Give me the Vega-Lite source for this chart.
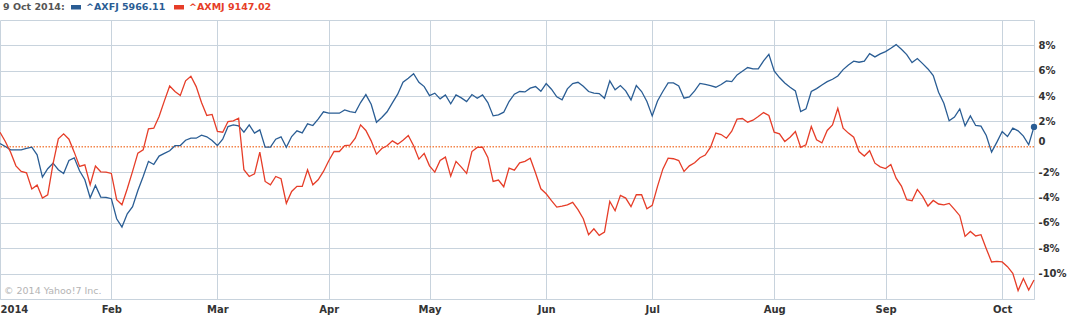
{
"$schema": "https://vega.github.io/schema/vega-lite/v6.json",
"width": 1034, "height": 279,
"autosize": {"type": "none"},
"padding": {"left": 0, "top": 20, "right": 37, "bottom": 17},
"background": "white",
"config": {"view": {"stroke": null}, "font": "DejaVu Sans"},
"datasets": {
"px": [
{"d":"2014-01-02","AXFJ":0.26,"AXMJ":1.15},{"d":"2014-01-03","AXFJ":0.03,"AXMJ":0.42},{"d":"2014-01-06","AXFJ":-0.24,"AXMJ":-0.42},{"d":"2014-01-07","AXFJ":-0.24,"AXMJ":-1.5},{"d":"2014-01-08","AXFJ":-0.24,"AXMJ":-1.94},{"d":"2014-01-09","AXFJ":-0.13,"AXMJ":-2.05},{"d":"2014-01-10","AXFJ":-0.03,"AXMJ":-3.33},{"d":"2014-01-13","AXFJ":-0.63,"AXMJ":-3.02},{"d":"2014-01-14","AXFJ":-2.39,"AXMJ":-4.04},{"d":"2014-01-15","AXFJ":-1.73,"AXMJ":-3.78},{"d":"2014-01-16","AXFJ":-1.29,"AXMJ":-1.34},{"d":"2014-01-17","AXFJ":-1.81,"AXMJ":0.63},{"d":"2014-01-20","AXFJ":-2.1,"AXMJ":1.02},{"d":"2014-01-21","AXFJ":-1.08,"AXMJ":0.6},{"d":"2014-01-22","AXFJ":-0.87,"AXMJ":-0.42},{"d":"2014-01-23","AXFJ":-1.89,"AXMJ":-1.55},{"d":"2014-01-24","AXFJ":-2.6,"AXMJ":-1.42},{"d":"2014-01-28","AXFJ":-4.02,"AXMJ":-2.99},{"d":"2014-01-29","AXFJ":-3.04,"AXMJ":-1.52},{"d":"2014-01-30","AXFJ":-3.96,"AXMJ":-1.97},{"d":"2014-01-31","AXFJ":-3.99,"AXMJ":-1.99},
{"d":"2014-02-03","AXFJ":-4.09,"AXMJ":-2.1},{"d":"2014-02-04","AXFJ":-5.67,"AXMJ":-4.17},{"d":"2014-02-05","AXFJ":-6.33,"AXMJ":-4.57},{"d":"2014-02-06","AXFJ":-5.28,"AXMJ":-3.31},{"d":"2014-02-07","AXFJ":-4.72,"AXMJ":-1.94},{"d":"2014-02-10","AXFJ":-3.44,"AXMJ":-0.5},{"d":"2014-02-11","AXFJ":-2.34,"AXMJ":-0.24},{"d":"2014-02-12","AXFJ":-1.15,"AXMJ":1.42},{"d":"2014-02-13","AXFJ":-1.39,"AXMJ":1.47},{"d":"2014-02-14","AXFJ":-0.73,"AXMJ":2.39},{"d":"2014-02-17","AXFJ":-0.52,"AXMJ":3.62},{"d":"2014-02-18","AXFJ":-0.31,"AXMJ":4.8},{"d":"2014-02-19","AXFJ":0.09,"AXMJ":4.36},{"d":"2014-02-20","AXFJ":0.1,"AXMJ":4.05},{"d":"2014-02-21","AXFJ":0.52,"AXMJ":5.2},{"d":"2014-02-24","AXFJ":0.68,"AXMJ":5.56},{"d":"2014-02-25","AXFJ":0.68,"AXMJ":4.75},{"d":"2014-02-26","AXFJ":0.92,"AXMJ":3.49},{"d":"2014-02-27","AXFJ":0.79,"AXMJ":2.47},{"d":"2014-02-28","AXFJ":0.5,"AXMJ":2.55},
{"d":"2014-03-03","AXFJ":0.1,"AXMJ":1.21},{"d":"2014-03-04","AXFJ":0.6,"AXMJ":1.15},{"d":"2014-03-05","AXFJ":1.6,"AXMJ":1.99},{"d":"2014-03-06","AXFJ":1.73,"AXMJ":2.05},{"d":"2014-03-07","AXFJ":1.65,"AXMJ":2.26},{"d":"2014-03-10","AXFJ":1.15,"AXMJ":-1.81},{"d":"2014-03-11","AXFJ":1.73,"AXMJ":-2.34},{"d":"2014-03-12","AXFJ":1.08,"AXMJ":-2.13},{"d":"2014-03-13","AXFJ":1.34,"AXMJ":-0.42},{"d":"2014-03-14","AXFJ":-0.03,"AXMJ":-2.73},{"d":"2014-03-17","AXFJ":-0.03,"AXMJ":-2.99},{"d":"2014-03-18","AXFJ":0.6,"AXMJ":-2.34},{"d":"2014-03-19","AXFJ":0.79,"AXMJ":-2.52},{"d":"2014-03-20","AXFJ":-0.03,"AXMJ":-4.46},{"d":"2014-03-21","AXFJ":0.81,"AXMJ":-3.52},{"d":"2014-03-24","AXFJ":1.26,"AXMJ":-3.12},{"d":"2014-03-25","AXFJ":1.1,"AXMJ":-3.12},{"d":"2014-03-26","AXFJ":1.81,"AXMJ":-1.81},{"d":"2014-03-27","AXFJ":1.68,"AXMJ":-2.99},{"d":"2014-03-28","AXFJ":2.18,"AXMJ":-2.6},{"d":"2014-03-31","AXFJ":2.76,"AXMJ":-1.94},
{"d":"2014-04-01","AXFJ":2.65,"AXMJ":-1.1},{"d":"2014-04-02","AXFJ":2.65,"AXMJ":-0.37},{"d":"2014-04-03","AXFJ":2.65,"AXMJ":-0.37},{"d":"2014-04-04","AXFJ":2.91,"AXMJ":0.1},{"d":"2014-04-07","AXFJ":2.77,"AXMJ":0.13},{"d":"2014-04-08","AXFJ":2.7,"AXMJ":0.68},{"d":"2014-04-09","AXFJ":3.49,"AXMJ":1.73},{"d":"2014-04-10","AXFJ":4.12,"AXMJ":1.29},{"d":"2014-04-11","AXFJ":3.36,"AXMJ":0.47},{"d":"2014-04-14","AXFJ":1.94,"AXMJ":-0.58},{"d":"2014-04-15","AXFJ":2.31,"AXMJ":-0.13},{"d":"2014-04-16","AXFJ":2.76,"AXMJ":0.08},{"d":"2014-04-17","AXFJ":3.46,"AXMJ":0.47},{"d":"2014-04-22","AXFJ":4.15,"AXMJ":0.21},{"d":"2014-04-23","AXFJ":5.09,"AXMJ":0.52},{"d":"2014-04-24","AXFJ":5.41,"AXMJ":0.89},{"d":"2014-04-28","AXFJ":5.77,"AXMJ":0.08},{"d":"2014-04-29","AXFJ":5.09,"AXMJ":-0.97},{"d":"2014-04-30","AXFJ":4.75,"AXMJ":-0.52},
{"d":"2014-05-01","AXFJ":4.04,"AXMJ":-1.5},{"d":"2014-05-02","AXFJ":4.23,"AXMJ":-1.99},{"d":"2014-05-05","AXFJ":3.78,"AXMJ":-1.08},{"d":"2014-05-06","AXFJ":4.09,"AXMJ":-0.81},{"d":"2014-05-07","AXFJ":3.39,"AXMJ":-2.31},{"d":"2014-05-08","AXFJ":4.09,"AXMJ":-1.15},{"d":"2014-05-09","AXFJ":3.86,"AXMJ":-1.6},{"d":"2014-05-12","AXFJ":3.57,"AXMJ":-2.1},{"d":"2014-05-13","AXFJ":4.12,"AXMJ":-0.37},{"d":"2014-05-14","AXFJ":3.83,"AXMJ":-0.05},{"d":"2014-05-15","AXFJ":4.09,"AXMJ":-0.03},{"d":"2014-05-16","AXFJ":3.49,"AXMJ":-0.84},{"d":"2014-05-19","AXFJ":2.44,"AXMJ":-2.73},{"d":"2014-05-20","AXFJ":2.52,"AXMJ":-2.62},{"d":"2014-05-21","AXFJ":2.73,"AXMJ":-3.15},{"d":"2014-05-22","AXFJ":3.57,"AXMJ":-1.68},{"d":"2014-05-23","AXFJ":4.15,"AXMJ":-1.84},{"d":"2014-05-26","AXFJ":4.36,"AXMJ":-1.26},{"d":"2014-05-27","AXFJ":4.33,"AXMJ":-1.14},{"d":"2014-05-28","AXFJ":4.63,"AXMJ":-0.9},{"d":"2014-05-29","AXFJ":4.75,"AXMJ":-2.07},{"d":"2014-05-30","AXFJ":4.38,"AXMJ":-3.31},
{"d":"2014-06-02","AXFJ":4.99,"AXMJ":-3.7},{"d":"2014-06-03","AXFJ":4.54,"AXMJ":-4.25},{"d":"2014-06-04","AXFJ":3.94,"AXMJ":-4.75},{"d":"2014-06-05","AXFJ":3.7,"AXMJ":-4.67},{"d":"2014-06-06","AXFJ":4.57,"AXMJ":-4.57},{"d":"2014-06-10","AXFJ":4.99,"AXMJ":-4.38},{"d":"2014-06-11","AXFJ":5.09,"AXMJ":-4.96},{"d":"2014-06-12","AXFJ":4.78,"AXMJ":-5.67},{"d":"2014-06-13","AXFJ":4.36,"AXMJ":-6.93},{"d":"2014-06-16","AXFJ":4.23,"AXMJ":-6.46},{"d":"2014-06-17","AXFJ":4.2,"AXMJ":-6.98},{"d":"2014-06-18","AXFJ":3.83,"AXMJ":-6.72},{"d":"2014-06-19","AXFJ":5.2,"AXMJ":-4.3},{"d":"2014-06-20","AXFJ":4.49,"AXMJ":-5.04},{"d":"2014-06-23","AXFJ":4.83,"AXMJ":-3.83},{"d":"2014-06-24","AXFJ":4.41,"AXMJ":-4.04},{"d":"2014-06-25","AXFJ":3.7,"AXMJ":-4.72},{"d":"2014-06-26","AXFJ":4.83,"AXMJ":-3.78},{"d":"2014-06-27","AXFJ":4.36,"AXMJ":-3.78},{"d":"2014-06-30","AXFJ":3.57,"AXMJ":-4.88},
{"d":"2014-07-01","AXFJ":2.44,"AXMJ":-4.62},{"d":"2014-07-02","AXFJ":3.62,"AXMJ":-3.12},{"d":"2014-07-03","AXFJ":4.36,"AXMJ":-1.76},{"d":"2014-07-04","AXFJ":5.04,"AXMJ":-0.89},{"d":"2014-07-07","AXFJ":5.04,"AXMJ":-0.94},{"d":"2014-07-08","AXFJ":4.8,"AXMJ":-1.08},{"d":"2014-07-09","AXFJ":3.83,"AXMJ":-1.94},{"d":"2014-07-10","AXFJ":3.94,"AXMJ":-1.5},{"d":"2014-07-11","AXFJ":4.41,"AXMJ":-1.26},{"d":"2014-07-14","AXFJ":5.0,"AXMJ":-0.86},{"d":"2014-07-15","AXFJ":4.92,"AXMJ":-0.65},{"d":"2014-07-16","AXFJ":4.83,"AXMJ":-0.03},{"d":"2014-07-17","AXFJ":4.7,"AXMJ":1.08},{"d":"2014-07-18","AXFJ":4.91,"AXMJ":0.97},{"d":"2014-07-21","AXFJ":5.2,"AXMJ":0.68},{"d":"2014-07-22","AXFJ":5.14,"AXMJ":1.23},{"d":"2014-07-23","AXFJ":5.67,"AXMJ":2.18},{"d":"2014-07-24","AXFJ":5.96,"AXMJ":2.23},{"d":"2014-07-25","AXFJ":6.25,"AXMJ":1.94},{"d":"2014-07-28","AXFJ":6.14,"AXMJ":2.1},{"d":"2014-07-29","AXFJ":6.14,"AXMJ":2.39},{"d":"2014-07-30","AXFJ":6.77,"AXMJ":2.7},{"d":"2014-07-31","AXFJ":7.3,"AXMJ":2.47},
{"d":"2014-08-01","AXFJ":5.98,"AXMJ":1.15},{"d":"2014-08-04","AXFJ":5.46,"AXMJ":1.02},{"d":"2014-08-05","AXFJ":5.04,"AXMJ":0.42},{"d":"2014-08-06","AXFJ":4.7,"AXMJ":0.76},{"d":"2014-08-07","AXFJ":4.41,"AXMJ":1.21},{"d":"2014-08-08","AXFJ":2.78,"AXMJ":-0.05},{"d":"2014-08-11","AXFJ":2.99,"AXMJ":0.16},{"d":"2014-08-12","AXFJ":4.36,"AXMJ":1.6},{"d":"2014-08-13","AXFJ":4.59,"AXMJ":0.55},{"d":"2014-08-14","AXFJ":4.88,"AXMJ":0.31},{"d":"2014-08-15","AXFJ":5.14,"AXMJ":1.29},{"d":"2014-08-18","AXFJ":5.33,"AXMJ":1.73},{"d":"2014-08-19","AXFJ":5.59,"AXMJ":3.04},{"d":"2014-08-20","AXFJ":6.09,"AXMJ":1.47},{"d":"2014-08-21","AXFJ":6.46,"AXMJ":1.08},{"d":"2014-08-22","AXFJ":6.75,"AXMJ":0.76},{"d":"2014-08-25","AXFJ":6.67,"AXMJ":-0.37},{"d":"2014-08-26","AXFJ":6.75,"AXMJ":-0.73},{"d":"2014-08-27","AXFJ":7.35,"AXMJ":-0.31},{"d":"2014-08-28","AXFJ":7.09,"AXMJ":-1.29},{"d":"2014-08-29","AXFJ":7.33,"AXMJ":-1.58},
{"d":"2014-09-01","AXFJ":7.51,"AXMJ":-1.71},{"d":"2014-09-02","AXFJ":7.77,"AXMJ":-1.39},{"d":"2014-09-03","AXFJ":8.06,"AXMJ":-2.47},{"d":"2014-09-04","AXFJ":7.69,"AXMJ":-3.1},{"d":"2014-09-05","AXFJ":7.27,"AXMJ":-4.17},{"d":"2014-09-08","AXFJ":6.64,"AXMJ":-4.25},{"d":"2014-09-09","AXFJ":6.96,"AXMJ":-3.36},{"d":"2014-09-10","AXFJ":6.56,"AXMJ":-3.91},{"d":"2014-09-11","AXFJ":6.14,"AXMJ":-4.67},{"d":"2014-09-12","AXFJ":5.62,"AXMJ":-4.23},{"d":"2014-09-15","AXFJ":4.3,"AXMJ":-4.51},{"d":"2014-09-16","AXFJ":3.44,"AXMJ":-4.57},{"d":"2014-09-17","AXFJ":2.05,"AXMJ":-4.46},{"d":"2014-09-18","AXFJ":2.34,"AXMJ":-4.93},{"d":"2014-09-19","AXFJ":2.99,"AXMJ":-5.43},{"d":"2014-09-22","AXFJ":1.65,"AXMJ":-7.06},{"d":"2014-09-23","AXFJ":2.44,"AXMJ":-6.67},{"d":"2014-09-24","AXFJ":1.68,"AXMJ":-7.03},{"d":"2014-09-25","AXFJ":1.63,"AXMJ":-6.93},{"d":"2014-09-26","AXFJ":0.89,"AXMJ":-8.03},{"d":"2014-09-29","AXFJ":-0.42,"AXMJ":-9.08},{"d":"2014-09-30","AXFJ":0.37,"AXMJ":-9.03},
{"d":"2014-10-01","AXFJ":1.21,"AXMJ":-9.08},{"d":"2014-10-02","AXFJ":0.81,"AXMJ":-9.45},{"d":"2014-10-03","AXFJ":1.47,"AXMJ":-9.97},{"d":"2014-10-06","AXFJ":1.26,"AXMJ":-11.34},{"d":"2014-10-07","AXFJ":0.84,"AXMJ":-10.39},{"d":"2014-10-08","AXFJ":0.16,"AXMJ":-11.29},{"d":"2014-10-09","AXFJ":1.57,"AXMJ":-10.5}
],
"zero": [{"v": 0}],
"note": [{"d": "2014-01-02", "v": -11.35, "t": "© 2014 Yahoo!7 Inc."}]
},
"layer": [
{
"data": {"name": "zero"},
"mark": {"type": "rule", "color": "#f3864c", "strokeWidth": 1.6, "strokeDash": [1.5, 1.5]},
"encoding": {"y": {"field": "v", "type": "quantitative", "scale": {"domain": [-12, 10], "nice": false, "zero": false}, "axis": {"title": null}}}
},
{
"data": {"name": "px"},
"transform": [{"fold": ["AXFJ", "AXMJ"], "as": ["s", "v"]}],
"mark": {"type": "line", "strokeWidth": 1.3},
"encoding": {
"x": {"field": "d", "type": "ordinal", "sort": "ascending", "scale": {"type": "point", "padding": 0},
"axis": {"values": ["2014-01-02","2014-02-03","2014-03-03","2014-04-01","2014-05-01","2014-06-02","2014-07-01","2014-08-01","2014-09-01","2014-10-01"],
"labelExpr": "datum.value == '2014-01-02' ? '2014' : utcFormat(toDate(datum.value), '%b')",
"title": null, "grid": true, "gridColor": "#c8d3dd", "gridWidth": 1, "ticks": false, "domainColor": "#c8d3dd", "domainWidth": 1,
"labelAngle": 0, "labelFont": "DejaVu Sans", "labelFontSize": 10, "labelFontWeight": "bold", "labelColor": "#333333", "labelPadding": 5, "labelFlush": true, "labelOverlap": false}},
"y": {"field": "v", "type": "quantitative", "scale": {"domain": [-12, 10], "nice": false, "zero": false},
"axis": {"orient": "right", "values": [-12,-10,-8,-6,-4,-2,0,2,4,6,8,10], "tickCount": 30, "title": null, "labelOverlap": false, "labelBound": false,
"labelExpr": "datum.value == 10 || datum.value == -12 ? '' : datum.value == 0 ? '0' : datum.value + '%'",
"grid": true, "gridColor": {"condition": {"test": "datum.value == 0", "value": "transparent"}, "value": "#c8d3dd"},
"ticks": false, "domainColor": "#c8d3dd", "labelFont": "DejaVu Sans", "labelFontSize": 10, "labelFontWeight": "bold", "labelColor": "#333333", "labelPadding": 4,
"labelOffset": {"condition": {"test": "datum.value == 0", "value": -5}, "value": 0}}},
"color": {"field": "s", "type": "nominal", "scale": {"domain": ["AXFJ", "AXMJ"], "range": ["#2a5d94", "#e63d28"]},
"legend": {"orient": "none", "legendX": 3, "legendY": -18, "direction": "horizontal", "title": "9 Oct 2014:", "titleOrient": "left",
"titleFont": "DejaVu Sans", "titleFontSize": 9.5, "titleFontWeight": "bold", "titleColor": "#555555", "titlePadding": 6,
"labelFont": "DejaVu Sans", "labelFontSize": 9.5, "labelFontWeight": "bold", "labelOffset": 5, "columnPadding": 8,
"symbolType": "M-1,-0.45L1,-0.45L1,0.45L-1,0.45Z", "symbolSize": 100, "symbolStrokeWidth": 0,
"labelExpr": "datum.value == 'AXFJ' ? '^AXFJ 5966.11' : '^AXMJ 9147.02'",
"encode": {"labels": {"update": {"fill": {"scale": "color", "field": "value"}}}, "symbols": {"update": {"fill": {"scale": "color", "field": "value"}, "stroke": {"value": "transparent"}}}}}}
}
},
{
"data": {"name": "px"},
"transform": [{"filter": "datum.d == '2014-10-09'"}],
"mark": {"type": "point", "filled": true, "size": 40, "opacity": 1, "color": "#2a5d94"},
"encoding": {
"x": {"field": "d", "type": "ordinal", "axis": {"title": null}},
"y": {"field": "AXFJ", "type": "quantitative", "axis": {"title": null}}
}
},
{
"data": {"name": "note"},
"mark": {"type": "text", "align": "left", "baseline": "middle", "dx": 4, "fontSize": 9.5, "color": "#b4b4b4", "font": "DejaVu Sans"},
"encoding": {
"x": {"field": "d", "type": "ordinal", "axis": {"title": null}},
"y": {"field": "v", "type": "quantitative", "axis": {"title": null}},
"text": {"field": "t"}
}
}
]
}
